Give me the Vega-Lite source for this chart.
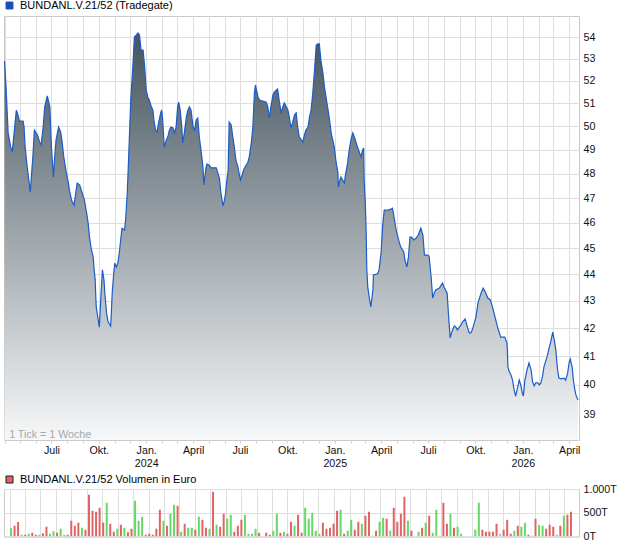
{
  "$schema": "https://vega.github.io/schema/vega-lite/v6.json",
  "background": "white",
  "padding": {"left": 3, "top": 0, "right": 0, "bottom": 0},
  "autosize": {"type": "pad"},
  "bounds": "flush",
  "spacing": 49,
  "config": {
    "font": "Liberation Sans",
    "view": {"stroke": "#c9c9c9"},
    "axis": {"gridColor": "#dedede", "labelFont": "Liberation Sans", "labelFontSize": 10.7, "labelColor": "#111111", "domain": false, "title": null}
  },
  "datasets": {
    "price": [
      {"d":"2023-04-01","p":52.91},{"d":"2023-04-04","p":51.73},{"d":"2023-04-08","p":49.72},{"d":"2023-04-13","p":49.12},{"d":"2023-04-16","p":48.91},
      {"d":"2023-04-24","p":50.71},{"d":"2023-04-27","p":50.50},{"d":"2023-04-30","p":50.23},{"d":"2023-05-07","p":50.23},{"d":"2023-05-09","p":49.97},
      {"d":"2023-05-11","p":49.12},{"d":"2023-05-15","p":48.28},{"d":"2023-05-21","p":47.25},{"d":"2023-05-26","p":48.70},{"d":"2023-05-29","p":49.84},
      {"d":"2023-06-04","p":49.63},{"d":"2023-06-08","p":49.33},{"d":"2023-06-11","p":49.20},{"d":"2023-06-15","p":49.97},{"d":"2023-06-18","p":50.85},
      {"d":"2023-06-23","p":51.33},{"d":"2023-06-28","p":50.85},{"d":"2023-07-01","p":49.12},{"d":"2023-07-05","p":47.86},{"d":"2023-07-07","p":48.57},
      {"d":"2023-07-10","p":49.42},{"d":"2023-07-15","p":49.97},{"d":"2023-07-19","p":49.76},{"d":"2023-07-22","p":49.29},{"d":"2023-07-25","p":48.70},
      {"d":"2023-07-30","p":48.03},{"d":"2023-08-03","p":47.61},{"d":"2023-08-05","p":47.32},{"d":"2023-08-09","p":46.92},{"d":"2023-08-14","p":46.71},
      {"d":"2023-08-20","p":47.61},{"d":"2023-08-25","p":47.53},{"d":"2023-08-28","p":47.32},{"d":"2023-09-03","p":46.92},{"d":"2023-09-07","p":46.44},
      {"d":"2023-09-10","p":46.04},{"d":"2023-09-13","p":45.44},{"d":"2023-09-16","p":45.01},{"d":"2023-09-20","p":44.67},{"d":"2023-09-22","p":44.17},
      {"d":"2023-09-24","p":43.79},{"d":"2023-09-25","p":43.22},{"d":"2023-09-26","p":42.78},{"d":"2023-09-29","p":42.41},{"d":"2023-10-02","p":42.04},
      {"d":"2023-10-04","p":42.78},{"d":"2023-10-08","p":44.17},{"d":"2023-10-11","p":43.79},{"d":"2023-10-13","p":43.22},{"d":"2023-10-16","p":42.56},
      {"d":"2023-10-19","p":42.23},{"d":"2023-10-24","p":42.08},{"d":"2023-10-25","p":42.41},{"d":"2023-10-27","p":43.30},{"d":"2023-10-30","p":44.05},
      {"d":"2023-11-01","p":44.43},{"d":"2023-11-04","p":44.28},{"d":"2023-11-07","p":44.43},{"d":"2023-11-10","p":44.86},{"d":"2023-11-12","p":45.25},
      {"d":"2023-11-15","p":45.79},{"d":"2023-11-20","p":45.72},{"d":"2023-11-22","p":46.12},{"d":"2023-11-25","p":47.12},{"d":"2023-11-27","p":48.15},
      {"d":"2023-12-02","p":51.15},{"d":"2023-12-06","p":52.63},{"d":"2023-12-09","p":54.01},{"d":"2023-12-13","p":54.11},{"d":"2023-12-16","p":54.20},
      {"d":"2023-12-19","p":54.11},{"d":"2023-12-22","p":53.41},{"d":"2023-12-26","p":53.41},{"d":"2023-12-29","p":52.63},{"d":"2024-01-01","p":51.60},
      {"d":"2024-01-04","p":51.29},{"d":"2024-01-07","p":51.15},{"d":"2024-01-11","p":50.85},{"d":"2024-01-14","p":50.71},{"d":"2024-01-16","p":50.28},
      {"d":"2024-01-19","p":49.84},{"d":"2024-01-22","p":49.76},{"d":"2024-01-25","p":50.15},{"d":"2024-01-29","p":50.58},{"d":"2024-01-31","p":50.71},
      {"d":"2024-02-02","p":50.28},{"d":"2024-02-05","p":49.12},{"d":"2024-02-09","p":49.42},{"d":"2024-02-12","p":49.55},{"d":"2024-02-15","p":49.84},
      {"d":"2024-02-18","p":49.97},{"d":"2024-02-22","p":49.93},{"d":"2024-02-25","p":49.72},{"d":"2024-02-28","p":49.97},{"d":"2024-03-02","p":50.85},
      {"d":"2024-03-04","p":51.06},{"d":"2024-03-07","p":50.71},{"d":"2024-03-10","p":49.97},{"d":"2024-03-12","p":49.29},{"d":"2024-03-15","p":49.72},
      {"d":"2024-03-19","p":50.41},{"d":"2024-03-22","p":50.71},{"d":"2024-03-25","p":50.85},{"d":"2024-03-28","p":50.71},{"d":"2024-04-01","p":49.97},
      {"d":"2024-04-04","p":49.84},{"d":"2024-04-07","p":50.28},{"d":"2024-04-10","p":50.36},{"d":"2024-04-13","p":49.55},{"d":"2024-04-17","p":48.87},
      {"d":"2024-04-20","p":48.28},{"d":"2024-04-22","p":47.53},{"d":"2024-04-26","p":48.24},{"d":"2024-04-28","p":48.40},{"d":"2024-05-02","p":48.36},
      {"d":"2024-05-06","p":48.24},{"d":"2024-05-16","p":48.24},{"d":"2024-05-19","p":48.03},{"d":"2024-05-22","p":47.82},{"d":"2024-05-25","p":47.20},
      {"d":"2024-05-29","p":46.67},{"d":"2024-06-01","p":46.92},{"d":"2024-06-03","p":47.20},{"d":"2024-06-05","p":47.61},{"d":"2024-06-08","p":48.15},
      {"d":"2024-06-10","p":50.19},{"d":"2024-06-14","p":50.06},{"d":"2024-06-17","p":49.55},{"d":"2024-06-20","p":49.12},{"d":"2024-06-23","p":48.57},
      {"d":"2024-06-27","p":48.28},{"d":"2024-06-30","p":47.94},{"d":"2024-07-02","p":47.74},{"d":"2024-07-05","p":47.94},{"d":"2024-07-08","p":48.15},
      {"d":"2024-07-13","p":48.36},{"d":"2024-07-16","p":48.45},{"d":"2024-07-19","p":48.70},{"d":"2024-07-23","p":49.29},{"d":"2024-07-26","p":49.97},
      {"d":"2024-07-29","p":51.46},{"d":"2024-07-31","p":51.82},{"d":"2024-08-03","p":51.51},{"d":"2024-08-05","p":51.29},{"d":"2024-08-08","p":51.15},
      {"d":"2024-08-14","p":51.11},{"d":"2024-08-21","p":51.06},{"d":"2024-08-24","p":50.85},{"d":"2024-08-27","p":50.36},{"d":"2024-08-30","p":50.85},
      {"d":"2024-09-03","p":51.38},{"d":"2024-09-06","p":51.51},{"d":"2024-09-12","p":51.64},{"d":"2024-09-15","p":51.15},{"d":"2024-09-19","p":50.58},
      {"d":"2024-09-22","p":50.85},{"d":"2024-09-25","p":51.02},{"d":"2024-09-28","p":50.89},{"d":"2024-10-02","p":50.71},{"d":"2024-10-05","p":50.36},
      {"d":"2024-10-08","p":49.93},{"d":"2024-10-11","p":50.15},{"d":"2024-10-15","p":50.50},{"d":"2024-10-18","p":50.58},{"d":"2024-10-21","p":49.97},
      {"d":"2024-10-24","p":49.55},{"d":"2024-10-28","p":49.42},{"d":"2024-10-31","p":49.33},{"d":"2024-11-03","p":49.63},{"d":"2024-11-06","p":49.84},
      {"d":"2024-11-10","p":49.97},{"d":"2024-11-13","p":50.41},{"d":"2024-11-16","p":50.71},{"d":"2024-11-19","p":51.38},{"d":"2024-11-22","p":52.27},
      {"d":"2024-11-26","p":53.64},{"d":"2024-11-29","p":53.69},{"d":"2024-12-02","p":53.69},{"d":"2024-12-05","p":52.95},{"d":"2024-12-09","p":52.36},
      {"d":"2024-12-12","p":51.73},{"d":"2024-12-15","p":51.29},{"d":"2024-12-18","p":50.85},{"d":"2024-12-21","p":50.41},{"d":"2024-12-25","p":49.72},
      {"d":"2024-12-28","p":49.42},{"d":"2024-12-31","p":49.12},{"d":"2025-01-03","p":48.57},{"d":"2025-01-07","p":48.03},{"d":"2025-01-08","p":47.45},
      {"d":"2025-01-11","p":47.74},{"d":"2025-01-13","p":47.86},{"d":"2025-01-16","p":47.74},{"d":"2025-01-20","p":47.61},{"d":"2025-01-21","p":47.86},
      {"d":"2025-01-26","p":48.45},{"d":"2025-01-29","p":48.99},{"d":"2025-02-02","p":49.50},{"d":"2025-02-05","p":49.72},{"d":"2025-02-08","p":49.55},
      {"d":"2025-02-14","p":49.12},{"d":"2025-02-21","p":48.70},{"d":"2025-02-24","p":48.99},{"d":"2025-02-26","p":49.08},{"d":"2025-02-27","p":47.74},
      {"d":"2025-03-01","p":46.92},{"d":"2025-03-03","p":45.60},{"d":"2025-03-04","p":44.24},{"d":"2025-03-06","p":43.52},{"d":"2025-03-09","p":43.11},
      {"d":"2025-03-12","p":42.78},{"d":"2025-03-16","p":43.41},{"d":"2025-03-17","p":43.98},{"d":"2025-03-25","p":44.02},{"d":"2025-03-28","p":44.17},
      {"d":"2025-04-01","p":44.86},{"d":"2025-04-04","p":45.92},{"d":"2025-04-07","p":46.51},{"d":"2025-04-14","p":46.51},{"d":"2025-04-20","p":46.55},
      {"d":"2025-04-23","p":46.59},{"d":"2025-04-26","p":46.24},{"d":"2025-04-30","p":45.72},{"d":"2025-05-06","p":45.25},{"d":"2025-05-09","p":45.05},
      {"d":"2025-05-15","p":44.86},{"d":"2025-05-17","p":44.55},{"d":"2025-05-21","p":44.28},{"d":"2025-05-24","p":44.67},{"d":"2025-05-27","p":45.44},
      {"d":"2025-05-30","p":45.44},{"d":"2025-06-03","p":45.33},{"d":"2025-06-08","p":45.40},{"d":"2025-06-12","p":45.52},{"d":"2025-06-17","p":45.79},
      {"d":"2025-06-21","p":45.52},{"d":"2025-06-24","p":44.74},{"d":"2025-06-30","p":44.74},{"d":"2025-07-03","p":44.70},{"d":"2025-07-07","p":43.90},
      {"d":"2025-07-10","p":43.11},{"d":"2025-07-13","p":43.30},{"d":"2025-07-16","p":43.41},{"d":"2025-07-23","p":43.48},{"d":"2025-07-29","p":43.67},
      {"d":"2025-08-01","p":43.52},{"d":"2025-08-07","p":43.30},{"d":"2025-08-10","p":42.41},{"d":"2025-08-13","p":41.65},{"d":"2025-08-16","p":41.86},
      {"d":"2025-08-21","p":42.08},{"d":"2025-08-24","p":42.04},{"d":"2025-08-27","p":41.94},{"d":"2025-09-03","p":42.12},{"d":"2025-09-06","p":42.23},
      {"d":"2025-09-11","p":42.34},{"d":"2025-09-16","p":42.00},{"d":"2025-09-19","p":41.83},{"d":"2025-09-22","p":41.83},{"d":"2025-09-25","p":41.94},
      {"d":"2025-10-02","p":42.41},{"d":"2025-10-06","p":42.93},{"d":"2025-10-12","p":43.30},{"d":"2025-10-16","p":43.48},{"d":"2025-10-21","p":43.30},
      {"d":"2025-10-25","p":43.11},{"d":"2025-10-30","p":43.04},{"d":"2025-11-03","p":42.78},{"d":"2025-11-06","p":42.56},{"d":"2025-11-13","p":42.04},
      {"d":"2025-11-16","p":41.86},{"d":"2025-11-19","p":41.68},{"d":"2025-11-27","p":41.68},{"d":"2025-12-01","p":41.47},{"d":"2025-12-02","p":41.22},
      {"d":"2025-12-03","p":40.62},{"d":"2025-12-06","p":40.44},{"d":"2025-12-09","p":40.34},{"d":"2025-12-12","p":40.16},{"d":"2025-12-15","p":39.82},
      {"d":"2025-12-18","p":39.61},{"d":"2025-12-22","p":39.92},{"d":"2025-12-25","p":40.16},{"d":"2025-12-28","p":39.99},{"d":"2025-12-31","p":39.71},
      {"d":"2026-01-02","p":39.61},{"d":"2026-01-05","p":40.16},{"d":"2026-01-09","p":40.51},{"d":"2026-01-13","p":40.76},{"d":"2026-01-17","p":40.51},
      {"d":"2026-01-20","p":40.09},{"d":"2026-01-23","p":39.96},{"d":"2026-01-26","p":40.06},{"d":"2026-01-30","p":40.06},{"d":"2026-02-02","p":39.99},
      {"d":"2026-02-05","p":40.06},{"d":"2026-02-08","p":40.27},{"d":"2026-02-11","p":40.62},{"d":"2026-02-17","p":40.97},{"d":"2026-02-21","p":41.29},
      {"d":"2026-02-24","p":41.50},{"d":"2026-02-28","p":41.86},{"d":"2026-03-03","p":41.58},{"d":"2026-03-06","p":41.22},{"d":"2026-03-09","p":40.58},
      {"d":"2026-03-12","p":40.23},{"d":"2026-03-16","p":40.20},{"d":"2026-03-22","p":40.23},{"d":"2026-03-25","p":40.16},{"d":"2026-03-29","p":40.41},
      {"d":"2026-04-01","p":40.79},{"d":"2026-04-03","p":40.90},{"d":"2026-04-07","p":40.58},{"d":"2026-04-09","p":40.16},{"d":"2026-04-12","p":39.82},
      {"d":"2026-04-14","p":39.65},{"d":"2026-04-18","p":39.47}
    ],
    "vol": [
      {"w":"2023-04-04","v":176,"c":"g"},{"w":"2023-04-11","v":225,"c":"r"},{"w":"2023-04-18","v":303,"c":"r"},{"w":"2023-04-25","v":35,"c":"g"},
      {"w":"2023-05-02","v":35,"c":"r"},{"w":"2023-05-09","v":56,"c":"g"},{"w":"2023-05-16","v":77,"c":"r"},{"w":"2023-05-23","v":35,"c":"r"},
      {"w":"2023-05-30","v":35,"c":"g"},{"w":"2023-06-06","v":70,"c":"r"},{"w":"2023-06-13","v":204,"c":"r"},{"w":"2023-06-20","v":56,"c":"g"},
      {"w":"2023-06-27","v":113,"c":"g"},{"w":"2023-07-04","v":77,"c":"r"},{"w":"2023-07-11","v":162,"c":"g"},{"w":"2023-07-18","v":35,"c":"g"},
      {"w":"2023-07-25","v":35,"c":"r"},{"w":"2023-08-01","v":331,"c":"r"},{"w":"2023-08-08","v":225,"c":"r"},{"w":"2023-08-15","v":289,"c":"r"},
      {"w":"2023-08-22","v":183,"c":"g"},{"w":"2023-08-29","v":141,"c":"r"},{"w":"2023-09-05","v":880,"c":"r"},{"w":"2023-09-12","v":542,"c":"r"},
      {"w":"2023-09-19","v":521,"c":"r"},{"w":"2023-09-26","v":606,"c":"r"},{"w":"2023-10-03","v":296,"c":"r"},{"w":"2023-10-10","v":711,"c":"g"},
      {"w":"2023-10-17","v":268,"c":"r"},{"w":"2023-10-24","v":99,"c":"r"},{"w":"2023-10-31","v":162,"c":"g"},{"w":"2023-11-07","v":246,"c":"r"},
      {"w":"2023-11-14","v":183,"c":"g"},{"w":"2023-11-21","v":92,"c":"r"},{"w":"2023-11-28","v":162,"c":"r"},{"w":"2023-12-05","v":754,"c":"g"},
      {"w":"2023-12-12","v":331,"c":"g"},{"w":"2023-12-19","v":415,"c":"g"},{"w":"2023-12-26","v":35,"c":"r"},{"w":"2024-01-02","v":56,"c":"r"},
      {"w":"2024-01-09","v":35,"c":"r"},{"w":"2024-01-16","v":162,"c":"r"},{"w":"2024-01-23","v":563,"c":"r"},{"w":"2024-01-30","v":331,"c":"g"},
      {"w":"2024-02-06","v":225,"c":"r"},{"w":"2024-02-13","v":479,"c":"g"},{"w":"2024-02-20","v":669,"c":"g"},{"w":"2024-02-27","v":648,"c":"r"},
      {"w":"2024-03-05","v":99,"c":"g"},{"w":"2024-03-12","v":268,"c":"r"},{"w":"2024-03-19","v":183,"c":"g"},{"w":"2024-03-26","v":183,"c":"g"},
      {"w":"2024-04-02","v":141,"c":"r"},{"w":"2024-04-09","v":415,"c":"g"},{"w":"2024-04-16","v":352,"c":"r"},{"w":"2024-04-23","v":183,"c":"r"},
      {"w":"2024-04-30","v":162,"c":"g"},{"w":"2024-05-07","v":944,"c":"r"},{"w":"2024-05-14","v":246,"c":"g"},{"w":"2024-05-21","v":204,"c":"r"},
      {"w":"2024-05-28","v":479,"c":"r"},{"w":"2024-06-04","v":373,"c":"g"},{"w":"2024-06-11","v":458,"c":"g"},{"w":"2024-06-18","v":99,"c":"r"},
      {"w":"2024-06-25","v":225,"c":"r"},{"w":"2024-07-02","v":352,"c":"r"},{"w":"2024-07-09","v":458,"c":"g"},{"w":"2024-07-16","v":56,"c":"g"},
      {"w":"2024-07-23","v":56,"c":"g"},{"w":"2024-07-30","v":162,"c":"g"},{"w":"2024-08-06","v":77,"c":"r"},{"w":"2024-08-20","v":77,"c":"r"},
      {"w":"2024-08-27","v":35,"c":"r"},{"w":"2024-09-03","v":120,"c":"g"},{"w":"2024-09-10","v":479,"c":"g"},{"w":"2024-09-17","v":77,"c":"r"},
      {"w":"2024-09-24","v":99,"c":"g"},{"w":"2024-10-01","v":56,"c":"r"},{"w":"2024-10-08","v":310,"c":"r"},{"w":"2024-10-15","v":225,"c":"g"},
      {"w":"2024-10-22","v":458,"c":"r"},{"w":"2024-10-29","v":77,"c":"r"},{"w":"2024-11-05","v":606,"c":"g"},{"w":"2024-11-12","v":373,"c":"g"},
      {"w":"2024-11-19","v":500,"c":"g"},{"w":"2024-11-26","v":120,"c":"g"},{"w":"2024-12-03","v":56,"c":"g"},{"w":"2024-12-10","v":289,"c":"r"},
      {"w":"2024-12-17","v":162,"c":"r"},{"w":"2024-12-24","v":183,"c":"r"},{"w":"2024-12-31","v":268,"c":"r"},{"w":"2025-01-07","v":542,"c":"r"},
      {"w":"2025-01-14","v":563,"c":"g"},{"w":"2025-01-21","v":56,"c":"r"},{"w":"2025-01-28","v":120,"c":"g"},{"w":"2025-02-04","v":352,"c":"g"},
      {"w":"2025-02-11","v":141,"c":"r"},{"w":"2025-02-18","v":310,"c":"r"},{"w":"2025-02-25","v":268,"c":"g"},{"w":"2025-03-04","v":437,"c":"r"},
      {"w":"2025-03-11","v":521,"c":"r"},{"w":"2025-03-18","v":14,"c":"g"},{"w":"2025-03-25","v":120,"c":"r"},{"w":"2025-04-01","v":310,"c":"g"},
      {"w":"2025-04-08","v":394,"c":"g"},{"w":"2025-04-15","v":373,"c":"r"},{"w":"2025-04-22","v":120,"c":"g"},{"w":"2025-04-29","v":606,"c":"r"},
      {"w":"2025-05-06","v":310,"c":"r"},{"w":"2025-05-13","v":479,"c":"r"},{"w":"2025-05-20","v":838,"c":"r"},{"w":"2025-05-27","v":331,"c":"g"},
      {"w":"2025-06-03","v":120,"c":"r"},{"w":"2025-06-17","v":99,"c":"g"},{"w":"2025-06-24","v":183,"c":"r"},{"w":"2025-07-01","v":289,"c":"g"},
      {"w":"2025-07-08","v":437,"c":"r"},{"w":"2025-07-15","v":77,"c":"g"},{"w":"2025-07-22","v":563,"c":"g"},{"w":"2025-07-29","v":14,"c":"g"},
      {"w":"2025-08-05","v":711,"c":"r"},{"w":"2025-08-12","v":268,"c":"r"},{"w":"2025-08-19","v":479,"c":"g"},{"w":"2025-08-26","v":183,"c":"r"},
      {"w":"2025-09-02","v":204,"c":"g"},{"w":"2025-09-09","v":56,"c":"g"},{"w":"2025-10-07","v":141,"c":"g"},{"w":"2025-10-14","v":711,"c":"g"},
      {"w":"2025-10-21","v":141,"c":"r"},{"w":"2025-10-28","v":99,"c":"r"},{"w":"2025-11-04","v":99,"c":"r"},{"w":"2025-11-11","v":99,"c":"r"},
      {"w":"2025-11-18","v":268,"c":"r"},{"w":"2025-11-25","v":56,"c":"n"},{"w":"2025-12-02","v":141,"c":"r"},{"w":"2025-12-09","v":352,"c":"r"},
      {"w":"2025-12-16","v":56,"c":"r"},{"w":"2025-12-23","v":120,"c":"g"},{"w":"2025-12-30","v":225,"c":"r"},{"w":"2026-01-06","v":204,"c":"g"},
      {"w":"2026-01-13","v":289,"c":"g"},{"w":"2026-01-20","v":35,"c":"r"},{"w":"2026-01-27","v":14,"c":"g"},{"w":"2026-02-03","v":373,"c":"r"},
      {"w":"2026-02-10","v":246,"c":"g"},{"w":"2026-02-17","v":225,"c":"g"},{"w":"2026-02-24","v":162,"c":"r"},{"w":"2026-03-03","v":246,"c":"r"},
      {"w":"2026-03-10","v":204,"c":"r"},{"w":"2026-03-17","v":35,"c":"g"},{"w":"2026-03-24","v":225,"c":"r"},{"w":"2026-03-31","v":437,"c":"g"},
      {"w":"2026-04-07","v":458,"c":"r"},{"w":"2026-04-14","v":521,"c":"r"}
    ]
  },
  "vconcat": [
    {
      "width": 575,
      "height": 424,
      "data": {"name": "price"},
      "layer": [
        {
          "mark": {
            "type": "area",
            "clip": true,
            "color": {"gradient": "linear", "x1": 0, "y1": 0, "x2": 0, "y2": 1,
              "stops": [{"offset": 0, "color": "#45545e"}, {"offset": 1, "color": "#f7f8f9"}]}
          },
          "encoding": {
            "x": {
              "field": "d", "type": "temporal",
              "scale": {"domain": [{"year": 2023, "month": 3, "date": 31}, {"year": 2026, "month": 4, "date": 20}]},
              "axis": {
                "tickCount": {"interval": "month", "step": 1},
                "grid": true, "ticks": true, "tickSize": 3, "tickColor": "#d0d0d0",
                "labelPadding": 2, "labelOverlap": false, "labelFlush": false, "labelBound": false,
                "labelLineHeight": 13,
                "labelExpr": "year(datum.value)==2023 && month(datum.value)==3 ? '' : month(datum.value)==0 ? ['Jan.', timeFormat(datum.value, '%Y')] : month(datum.value)==3 ? 'April' : month(datum.value)==6 ? 'Juli' : month(datum.value)==9 ? 'Okt.' : ''"
              }
            },
            "y": {
              "field": "p", "type": "quantitative",
              "scale": {"type": "log", "domain": [38.134, 55.003], "nice": false, "zero": false},
              "axis": {"orient": "right", "values": [39,40,41,42,43,44,45,46,47,48,49,50,51,52,53,54], "grid": true, "ticks": false, "labelPadding": 4, "labelOverlap": false}
            },
            "y2": {"datum": 38.134}
          }
        },
        {
          "mark": {"type": "line", "clip": true, "strokeWidth": 1.2, "interpolate": "linear"},
          "encoding": {
            "x": {"field": "d", "type": "temporal"},
            "y": {"field": "p", "type": "quantitative"},
            "stroke": {
              "datum": "BUNDANL.V.21/52 (Tradegate)",
              "scale": {"range": ["#1c5cc9"]},
              "legend": {
                "orient": "none", "legendX": 0, "legendY": -16, "title": null,
                "symbolType": "square", "symbolSize": 49, "labelFontSize": 11, "labelColor": "#000000",
                "labelLimit": 400, "labelOffset": 5, "padding": 0,
                "encode": {"symbols": {"update": {"fill": {"value": "#1b4fae"}, "stroke": {"value": "#1d1d1d"}, "strokeWidth": {"value": 1}, "opacity": {"value": 1}}}}
              }
            }
          }
        },
        {
          "data": {"values": [{"t": "1 Tick = 1 Woche"}]},
          "mark": {"type": "text", "align": "left", "baseline": "alphabetic", "fontSize": 10.7, "color": "#a4a8ae"},
          "encoding": {
            "x": {"datum": {"year": 2023, "month": 4, "date": 10}, "type": "temporal"},
            "y": {"datum": 38.21, "type": "quantitative"},
            "text": {"field": "t"}
          }
        }
      ]
    },
    {
      "width": 575,
      "height": 47.5,
      "data": {"name": "vol"},
      "mark": {"type": "bar", "width": 2, "clip": true},
      "encoding": {
        "x": {
          "field": "w", "type": "temporal",
          "scale": {"domain": [{"year": 2023, "month": 3, "date": 31}, {"year": 2026, "month": 4, "date": 20}]},
          "axis": {"tickCount": {"interval": "month", "step": 1}, "grid": true, "labels": false, "ticks": false, "domain": false}
        },
        "y": {
          "field": "v", "type": "quantitative",
          "scale": {"domain": [0, 1000], "nice": false},
          "axis": {"orient": "right", "values": [0, 500, 1000], "grid": true, "ticks": false, "labelPadding": 4,
            "labelExpr": "datum.value == 1000 ? '1.000T' : datum.value + 'T'"}
        },
        "color": {
          "field": "c", "type": "nominal",
          "scale": {"domain": ["r", "g", "n"], "range": ["#df6464", "#66d866", "#bdbdbd"]},
          "legend": {
            "orient": "none", "legendX": 0, "legendY": 458, "title": null, "values": ["r"],
            "labelExpr": "'BUNDANL.V.21/52 Volumen in Euro'",
            "symbolType": "square", "symbolSize": 49, "labelFontSize": 11, "labelColor": "#000000",
            "labelLimit": 400, "labelOffset": 5, "padding": 0,
            "encode": {"symbols": {"update": {"fill": {"value": "#df6464"}, "stroke": {"value": "#1d1d1d"}, "strokeWidth": {"value": 1}, "opacity": {"value": 1}}}}
          }
        }
      }
    }
  ]
}
